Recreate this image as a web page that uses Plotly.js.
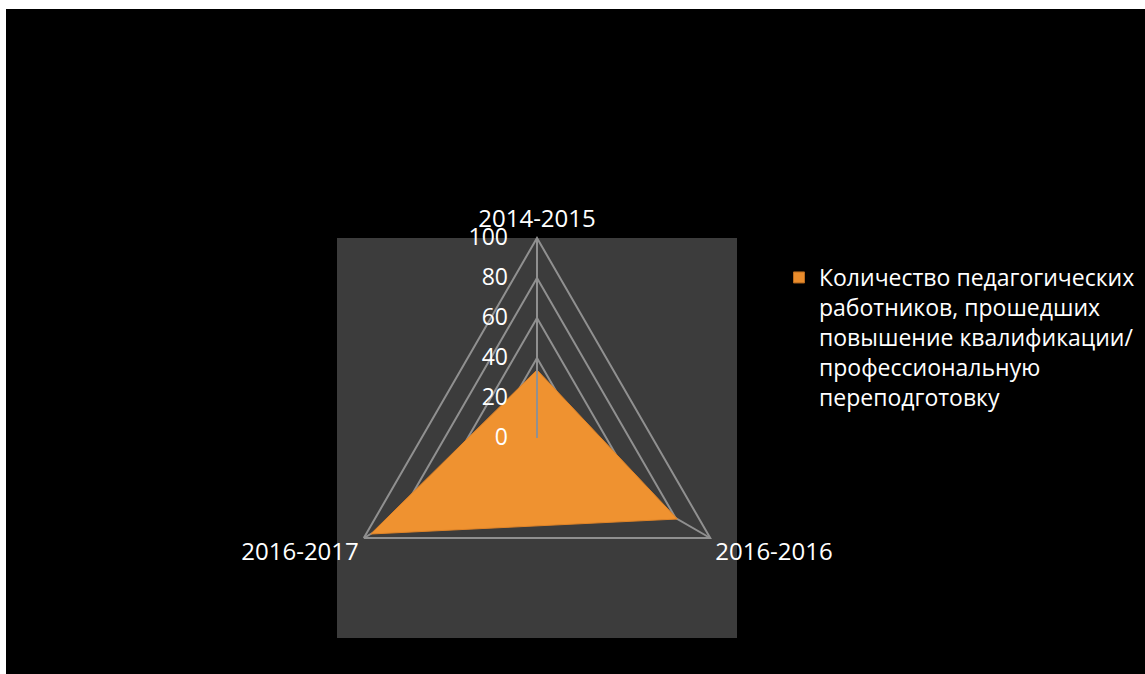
<!DOCTYPE html>
<html>
<head>
<meta charset="utf-8">
<script src="https://cdn.plot.ly/plotly-3.0.1.min.js"></script>
<style>
  html, body { margin: 0; padding: 0; background: #ffffff; width: 1145px; height: 674px; overflow: hidden; }
  #chart { position: absolute; left: 6px; top: 9px; width: 1139px; height: 665px; }
</style>
</head>
<body>
<div id="chart"></div>
<script>
const categories = ['2014-2015', '2016-2016', '2016-2017'];
const values = [34, 81, 96];
const seriesName = 'Количество педагогических<br>работников, прошедших<br>повышение квалификации/<br>профессиональную<br>переподготовку';
const radialTicks = [0, 20, 40, 60, 80, 100];

const W = 1139, H = 665;
const px = v => v / W, py = v => 1 - v / H;
const dom = { x: [px(331), px(731)], y: [py(629), py(229)] };
const orange = '#EF9230';

const trace = {
  type: 'scatterpolar',
  r: values.concat([values[0]]),
  theta: categories.concat([categories[0]]),
  fill: 'toself',
  fillcolor: orange,
  line: { color: '#E08428', width: 1 },
  mode: 'lines',
  name: seriesName,
  legendgroup: 's1',
  showlegend: false
};
// legend entry with a square swatch for the same series
const legendTrace = {
  type: 'scatterpolar',
  r: [null], theta: [categories[0]],
  mode: 'markers',
  marker: { symbol: 'square', size: 11, color: '#E98C2C', line: { color: '#B86A1E', width: 1 } },
  name: seriesName,
  legendgroup: 's1',
  showlegend: true
};

const font = 'Open Sans, sans-serif';
const gridGray = '#909090';
const layout = {
  width: W, height: H,
  margin: { l: 0, r: 0, t: 0, b: 0 },
  paper_bgcolor: '#000000',
  plot_bgcolor: '#000000',
  font: { family: font, color: '#ffffff', size: 23 },
  showlegend: true,
  legend: {
    x: px(773), y: py(247), xanchor: 'left', yanchor: 'top',
    bgcolor: 'rgba(0,0,0,0)',
    valign: 'top',
    font: { family: font, size: 23, color: '#ffffff' },
    itemwidth: 30
  },
  shapes: [{
    type: 'rect', xref: 'paper', yref: 'paper', layer: 'below',
    x0: dom.x[0], x1: dom.x[1], y0: dom.y[0], y1: dom.y[1],
    fillcolor: '#3C3C3C', line: { width: 0 }
  }],
  polar: {
    domain: dom,
    bgcolor: 'rgba(0,0,0,0)',
    gridshape: 'linear',
    radialaxis: {
      range: [0, 100],
      tickvals: radialTicks,
      ticktext: radialTicks.map(String),
      angle: 90,
      side: 'counterclockwise',
      showline: true,
      linecolor: gridGray,
      linewidth: 2,
      gridcolor: gridGray,
      gridwidth: 2,
      ticks: 'outside',
      ticklen: 20,
      tickcolor: 'rgba(0,0,0,0)',
      tickfont: { family: font, size: 23, color: '#ffffff' },
      tickangle: 90
    },
    angularaxis: {
      direction: 'clockwise',
      rotation: 90,
      showline: true,
      linecolor: gridGray,
      linewidth: 2,
      gridcolor: gridGray,
      gridwidth: 2,
      ticks: '',
      tickfont: { family: font, size: 24, color: '#ffffff' }
    }
  }
};

Plotly.newPlot('chart', [trace, legendTrace], layout, { displayModeBar: false, staticPlot: true });
</script>
</body>
</html>
